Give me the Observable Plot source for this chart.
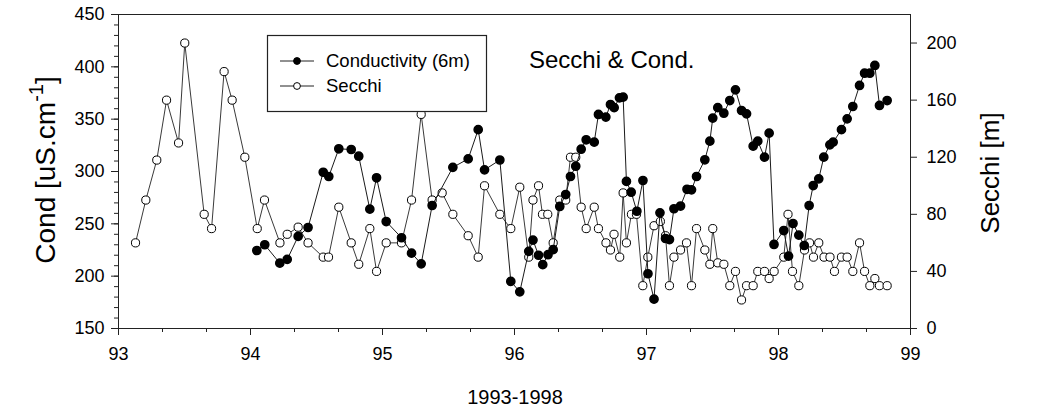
<!DOCTYPE html>
<html>
<head>
<meta charset="utf-8">
<script src="https://cdn.jsdelivr.net/npm/d3@7"></script>
<script src="https://cdn.jsdelivr.net/npm/@observablehq/plot@0.6"></script>
<style>
  html, body { margin: 0; padding: 0; background: #fff; }
  #wrap { position: relative; width: 1056px; height: 410px; font-family: "Liberation Sans", Arial, sans-serif; }
  #wrap svg { position: absolute; left: 0; top: 0; }
</style>
</head>
<body>
<div id="wrap"></div>
<script>
// ---- data (decimal year, 93 = 1993) ----
const secchiDates = [93.129,93.207,93.29,93.364,93.455,93.502,93.649,93.705,93.80,93.861,93.957,
  94.051,94.106,94.223,94.278,94.361,94.436,94.551,94.591,94.669,94.763,94.82,94.904,94.955,
  95.028,95.144,95.22,95.293,95.376,95.452,95.533,95.649,95.725,95.773,95.889,95.972,
  96.04,96.108,96.14,96.182,96.212,96.252,96.293,96.343,96.388,96.424,96.464,96.505,96.543,96.604,96.636,96.693,96.727,96.754,96.797,96.823,96.848,96.886,96.924,96.972,
  97.01,97.057,97.105,97.144,97.174,97.208,97.258,97.303,97.341,97.379,97.442,97.48,97.502,97.54,97.586,97.631,97.674,97.72,97.758,97.808,97.843,97.894,97.929,97.967,
  98.04,98.072,98.106,98.154,98.197,98.235,98.265,98.305,98.345,98.39,98.424,98.477,98.52,98.563,98.614,98.652,98.692,98.73,98.765,98.823];
const secchiValues = [60,90,118,160,130,200,80,70,180,160,120,
  70,90,60,66,71,60,50,50,85,60,45,70,40,
  60,60,90,150,90,95,80,65,50,100,80,70,
  99,50,90,100,80,80,60,90,90,120,120,85,70,85,70,60,55,66,50,95,60,80,80,30,
  50,72,75,65,30,50,55,60,30,70,55,45,70,46,45,30,40,20,30,30,40,40,35,40,
  50,80,40,30,55,60,50,60,50,50,40,50,50,40,60,40,30,35,30,30];

const condDates = [94.048,94.108,94.222,94.278,94.361,94.436,94.551,94.593,94.669,94.763,94.82,94.904,94.955,
  95.028,95.144,95.22,95.293,95.376,95.533,95.649,95.725,95.773,95.889,95.972,
  96.04,96.108,96.14,96.182,96.214,96.254,96.293,96.343,96.388,96.424,96.464,96.505,96.543,96.604,96.636,96.692,96.727,96.755,96.795,96.823,96.848,96.884,96.927,96.973,
  97.011,97.057,97.102,97.144,97.174,97.208,97.258,97.307,97.341,97.379,97.442,97.48,97.502,97.54,97.586,97.631,97.674,97.72,97.758,97.808,97.843,97.894,97.929,97.966,
  98.04,98.076,98.11,98.154,98.195,98.232,98.263,98.305,98.343,98.389,98.414,98.477,98.52,98.563,98.614,98.652,98.692,98.73,98.765,98.823];
const condValues = [224.5,230,212.4,216,238,246.5,299.3,295.2,321.7,321,314.6,264,294,
  252.2,236.7,222,211.8,267.5,304,312,340,301.6,311,195,
  185,223.7,234.5,220,211,220.5,225.3,266.6,278,295.2,305,321.3,330.3,328,354.5,352,364,361,370.4,371,290.5,280.2,262,291.4,
  202.3,178,260.5,236,235,264.4,267,283,282.5,295.2,311.2,329,351,361,355.7,367.8,378,358.3,355.1,324.2,329,313.7,336.6,230.3,
  243.6,219.1,250.3,239.2,229.3,267.5,286.6,293,313.7,325.5,328,340,350.3,362.1,382.2,393.9,393.9,401.3,363.1,367.8];

const xMajorTicks = [93,94,95,96,97,98,99];
const condTicks = [150,200,250,300,350,400,450];
const secchiTicks = [0,40,80,120,160,200];

const secchiData = secchiDates.map((d, i) => ({x: d, y: secchiValues[i]}));
const condData = condDates.map((d, i) => ({x: d, y: condValues[i]}));

const W = 1056, H = 410;
const M = {left: 118, right: 146, top: 14, bottom: 82};
const FONT = "'Liberation Sans', Arial, sans-serif";
const xMinor = d3.range(0, 19).map(i => 93 + i / 3);
const yMinor = d3.range(150, 451, 10);

// Secchi plot (right axis), drawn underneath
const secchiPlot = Plot.plot({
  width: W, height: H,
  marginLeft: M.left, marginRight: M.right, marginTop: M.top, marginBottom: M.bottom,
  style: {background: "transparent", fontFamily: FONT, fontSize: "18px", color: "#000", overflow: "visible"},
  x: {domain: [93, 99]},
  y: {domain: [0, 220]},
  marks: [
    Plot.axisY({anchor: "right", ticks: secchiTicks, tickSize: 6, tickPadding: 10, label: null, stroke: "#222"}),
    Plot.axisX({ticks: [], label: null}),
    Plot.line(secchiData, {x: "x", y: "y", stroke: "#3a3a3a", strokeWidth: 1}),
    Plot.dot(secchiData, {x: "x", y: "y", r: 4.1, fill: "#fff", stroke: "#000", strokeWidth: 1})
  ]
});

// Conductivity plot (left axis, bottom axis, frame)
const condPlot = Plot.plot({
  width: W, height: H,
  marginLeft: M.left, marginRight: M.right, marginTop: M.top, marginBottom: M.bottom,
  style: {background: "transparent", fontFamily: FONT, fontSize: "18px", color: "#000", overflow: "visible"},
  x: {domain: [93, 99]},
  y: {domain: [150, 450]},
  marks: [
    Plot.frame({stroke: "#222", strokeWidth: 1}),
    Plot.axisY({ticks: yMinor, tickSize: 4, tickFormat: () => "", label: null, stroke: "#222"}),
    Plot.axisY({ticks: condTicks, tickSize: 7, tickPadding: 7, label: null, stroke: "#222"}),
    Plot.axisX({ticks: xMinor, tickSize: 4, tickFormat: () => "", label: null, stroke: "#222"}),
    Plot.axisX({ticks: xMajorTicks, tickSize: 7, tickPadding: 12, tickFormat: d => String(d), label: null, stroke: "#222"}),
    Plot.line(condData, {x: "x", y: "y", stroke: "#1a1a1a", strokeWidth: 1}),
    Plot.dot(condData, {x: "x", y: "y", r: 4.1, fill: "#000", stroke: "#000"})
  ]
});

const wrap = document.getElementById("wrap");
wrap.appendChild(secchiPlot);
wrap.appendChild(condPlot);

// Annotations: axis titles, title, legend
const svg = d3.select(condPlot);
const plotCY = (M.top + (H - M.bottom)) / 2;

const leftTitle = svg.append("text")
  .attr("transform", `translate(55,${plotCY - 1}) rotate(-90)`)
  .attr("text-anchor", "middle")
  .attr("font-family", FONT).attr("font-size", 28).attr("fill", "#000");
leftTitle.append("tspan").text("Cond [uS.cm");
leftTitle.append("tspan").attr("font-size", 20).attr("dy", -12).text("-1");
leftTitle.append("tspan").attr("dy", 12).text("]");

svg.append("text")
  .attr("transform", `translate(990,${plotCY + 2}) rotate(-90)`)
  .attr("text-anchor", "middle").attr("dy", "0.35em")
  .attr("font-family", FONT).attr("font-size", 26).attr("fill", "#000")
  .text("Secchi [m]");

svg.append("text")
  .attr("x", (M.left + W - M.right) / 2 + 1).attr("y", 404)
  .attr("text-anchor", "middle")
  .attr("font-family", FONT).attr("font-size", 20).attr("fill", "#000")
  .text("1993-1998");

svg.append("text")
  .attr("x", 529).attr("y", 68)
  .attr("text-anchor", "start")
  .attr("font-family", FONT).attr("font-size", 24).attr("fill", "#000")
  .text("Secchi & Cond.");

// Legend
const lg = svg.append("g");
lg.append("rect").attr("x", 267.5).attr("y", 35.5).attr("width", 219).attr("height", 76)
  .attr("fill", "#fff").attr("stroke", "#222").attr("stroke-width", 1.2);
const rows = [
  {label: "Conductivity (6m)", fill: "#000", y: 61},
  {label: "Secchi", fill: "#fff", y: 86}
];
rows.forEach(r => {
  lg.append("line").attr("x1", 280).attr("x2", 314).attr("y1", r.y).attr("y2", r.y)
    .attr("stroke", "#222").attr("stroke-width", 1);
  lg.append("circle").attr("cx", 297).attr("cy", r.y).attr("r", 3.4)
    .attr("fill", r.fill).attr("stroke", "#000");
  lg.append("text").attr("x", 326).attr("y", r.y).attr("dy", "0.35em")
    .attr("text-anchor", "start")
    .attr("font-family", FONT).attr("font-size", 18.5).attr("fill", "#000")
    .text(r.label);
});
</script>
</body>
</html>
